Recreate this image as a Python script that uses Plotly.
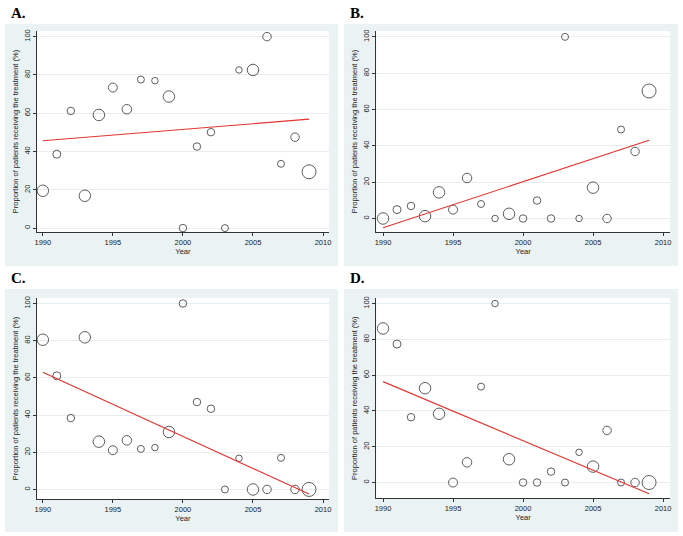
import plotly.graph_objects as go

W, H = 683, 536

years = list(range(1990, 2010))

# relative study weight, shown as bubble diameter
weight = [11.5, 8, 7.5, 11.5, 11.5, 9, 9.5, 7, 6.5, 11.5,
          7.5, 7.5, 7.5, 7, 6.5, 11.5, 8.5, 7, 8.5, 14]

prop_a = [19.5, 38.6, 61.2, 16.9, 59.1, 73.4, 62.1, 77.6, 77.0, 68.7,
          0, 42.6, 50.1, 0, 82.6, 82.6, 100, 33.6, 47.5, 29.4]
prop_b = [0, 4.9, 6.9, 1.3, 14.4, 4.9, 22.3, 8.0, 0, 2.6,
          0, 9.9, 0, 100, 0, 17.0, 0, 49.0, 36.9, 70.2]
prop_c = [80.5, 61.1, 38.4, 81.8, 25.7, 21.1, 26.4, 21.8, 22.5, 30.9,
          100, 47.0, 43.4, 0, 16.8, 0, 0, 17.0, 0, 0]
prop_d = [86.1, 77.4, 36.5, 52.7, 38.4, 0, 11.3, 53.6, 100, 13.0,
          0, 0, 6.1, 0, 16.9, 8.9, 29.1, 0, 0, 0]

# fitted line, value at first and last year
fit_years = [1990, 2009]
fit_a = [45.6, 56.9]
fit_b = [-5.1, 43.1]
fit_c = [63.0, -2.5]
fit_d = [56.4, -6.3]

labels = ["A.", "B.", "C.", "D."]

fig = go.Figure()

# pixel boxes: gray panel (left, top, right, bottom), plot area (left, top, right, bottom)
panels = [
    (prop_a, fit_a, (3, 22, 338, 265), (35, 29, 329, 231), [1989.57, 2010.43], [-2.1, 103.0]),
    (prop_b, fit_b, (344, 22, 680, 265), (376.5, 29, 672, 231), [1989.52, 2010.5], [-7.5, 103.3]),
    (prop_c, fit_c, (3, 288, 338, 532), (35, 297, 329, 499), [1989.57, 2010.43], [-5.2, 103.0]),
    (prop_d, fit_d, (344, 288, 680, 532), (376.5, 297, 672, 498.3), [1989.52, 2010.5], [-8.9, 103.2]),
]

def px(x):
    return x / W

def py(y):
    return 1 - y / H

font = "Liberation Sans, Arial, sans-serif"

for i, (vals, fit, gbox, pbox, xr, yr) in enumerate(panels):
    n = "" if i == 0 else str(i + 1)
    xa, ya = "x" + n, "y" + n

    fig.add_shape(type="rect", xref="paper", yref="paper", layer="below",
                  x0=px(gbox[0]), x1=px(gbox[2]), y0=py(gbox[3]), y1=py(gbox[1]),
                  fillcolor="#eaf2f3", line_width=0)
    fig.add_shape(type="rect", xref="paper", yref="paper", layer="below",
                  x0=px(pbox[0]), x1=px(pbox[2]), y0=py(pbox[3]), y1=py(pbox[1]),
                  fillcolor="white", line_width=0)

    fig.add_trace(go.Scatter(x=years, y=vals, mode="markers", xaxis=xa, yaxis=ya,
                             marker=dict(size=weight, sizemode="diameter", color="rgba(0,0,0,0)",
                                         line=dict(color="#1a1a1a", width=1)),
                             showlegend=False))
    fig.add_trace(go.Scatter(x=fit_years, y=fit, mode="lines", xaxis=xa, yaxis=ya,
                             line=dict(color="#e3342f", width=1.1), showlegend=False))

    fig.layout["xaxis" + n] = dict(
        domain=[px(pbox[0]), px(pbox[2])], anchor=ya, range=xr,
        tickvals=[1990, 1995, 2000, 2005, 2010], ticks="outside", ticklen=3,
        tickcolor="#333", showline=True, linecolor="#333", linewidth=1,
        showgrid=False, zeroline=False,
        tickfont=dict(family=font, size=7.5, color="#222"),
        title=dict(text="Year", font=dict(family=font, size=7.5, color="#222"), standoff=1))
    fig.layout["yaxis" + n] = dict(
        domain=[py(pbox[3]), py(pbox[1])], anchor=xa, range=yr,
        tickvals=[0, 20, 40, 60, 80, 100], ticks="outside", ticklen=3, tickangle=-90,
        tickcolor="#333", showline=True, linecolor="#333", linewidth=1,
        showgrid=True, gridcolor="#e6eef0", gridwidth=1, zeroline=False,
        tickfont=dict(family=font, size=7.5, color="#222"),
        title=dict(text="Proportion of patients receiving the treatment (%)",
                   font=dict(family=font, size=7.5, color="#222"), standoff=3))

    fig.add_annotation(text="<b>" + labels[i] + "</b>", xref="paper", yref="paper",
                       x=px(gbox[0] + 4), y=py(gbox[1] - 11), xanchor="left", yanchor="middle",
                       showarrow=False, font=dict(family="Liberation Serif, Times New Roman, serif",
                                                  size=15, color="black"))

fig.update_layout(width=W, height=H, margin=dict(l=0, r=0, t=0, b=0),
                  paper_bgcolor="white", plot_bgcolor="white")

# drop the page's default body margin so the figure sits at the window's corner
fig.write_html("out.html", config={"displayModeBar": False},
               post_script="document.body.style.margin='0';document.body.style.overflow='hidden';")
